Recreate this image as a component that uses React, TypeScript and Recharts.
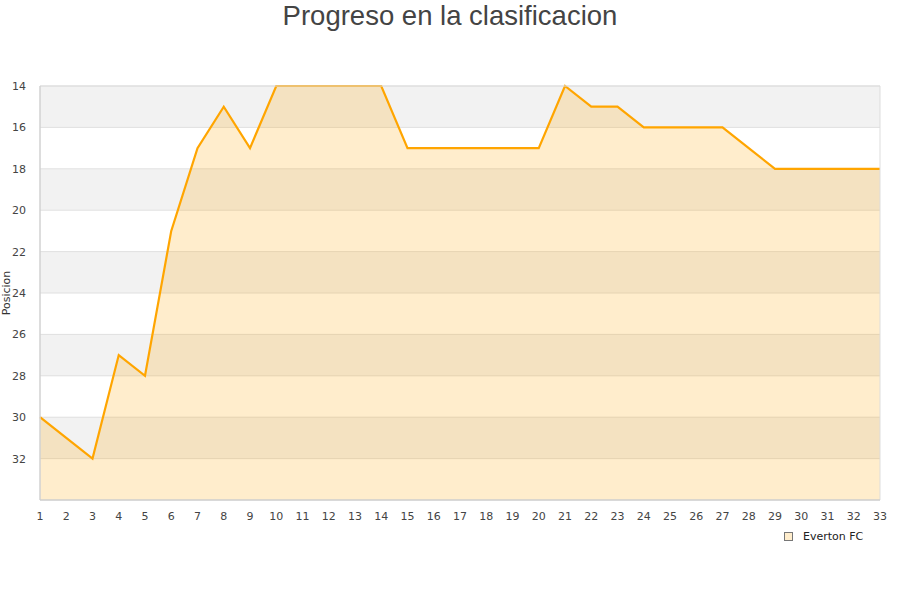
import React from 'react'
import {
  AreaChart,
  Area,
  XAxis,
  YAxis,
  CartesianGrid,
  ReferenceArea,
} from 'recharts'

const jornadas = [1, 2, 3, 4, 5, 6, 7, 8, 9, 10, 11, 12, 13, 14, 15, 16, 17, 18, 19, 20, 21, 22, 23, 24, 25, 26, 27, 28, 29, 30, 31, 32, 33]
const posiciones = [30, 31, 32, 27, 28, 21, 17, 15, 17, 14, 14, 14, 14, 14, 17, 17, 17, 17, 17, 17, 14, 15, 15, 16, 16, 16, 16, 17, 18, 18, 18, 18, 18]
const yTicks = [14, 16, 18, 20, 22, 24, 26, 28, 30, 32]
const teamName = 'Everton FC'

const data = jornadas.map((j, i) => ({ jornada: j, pos: posiciones[i] }))

const tickStyle = { fontSize: 11, fill: '#444', fontFamily: 'DejaVu Sans' }

function LegendBox() {
  return (
    <div
      style={{
        position: 'absolute',
        left: 784,
        top: 530,
        display: 'flex',
        alignItems: 'center',
        fontFamily: 'DejaVu Sans',
        fontSize: 11,
        color: '#222',
      }}
    >
      <span style={{ width: 7, height: 7, background: '#ffedcc', border: '1px solid #777', marginRight: 10 }} />
      {teamName}
    </div>
  )
}

export default function App() {
  return (
    <div style={{ position: 'absolute', left: 0, top: 0, width: 900, height: 600, background: '#fff' }}>
      <div
        style={{
          position: 'absolute',
          top: 0,
          width: 900,
          textAlign: 'center',
          fontFamily: 'Liberation Sans',
          fontSize: 27.5,
          color: '#444',
          lineHeight: '32px',
        }}
      >
        Progreso en la clasificacion
      </div>
      <AreaChart width={900} height={600} data={data} margin={{ top: 86, right: 20, bottom: 70, left: 0 }}>
        <CartesianGrid
          vertical={false}
          stroke="#e0e0e0"
          horizontalFill={['#f2f2f2', '#ffffff']}
          fillOpacity={1}
        />
        <XAxis
          dataKey="jornada"
          type="number"
          domain={[1, 33]}
          ticks={jornadas}
          interval={0}
          height={30}
          tickLine={false}
          axisLine={{ stroke: '#ccc' }}
          tick={tickStyle}
          tickMargin={6}
        />
        <YAxis
          type="number"
          reversed
          domain={[14, 34]}
          ticks={yTicks}
          interval={0}
          width={40}
          tickLine={false}
          axisLine={{ stroke: '#ccc' }}
          tick={tickStyle}
          tickMargin={8}
          label={{ value: 'Posicion', angle: -90, position: 'insideLeft', offset: 6, style: { fontSize: 11, fill: '#333', fontFamily: 'DejaVu Sans', textAnchor: 'middle' } }}
        />
        <Area
          type="linear"
          dataKey="pos"
          baseValue={34}
          stroke="#ffa500"
          strokeWidth={2.2}
          fill="#ffa500"
          fillOpacity={0.2}
          dot={false}
          activeDot={false}
          isAnimationActive={false}
        />
        <ReferenceArea x1={1} x2={33} y1={14} y2={34} fill="none" stroke="#ddd" ifOverflow="visible" />
      </AreaChart>
      <LegendBox />
    </div>
  )
}
